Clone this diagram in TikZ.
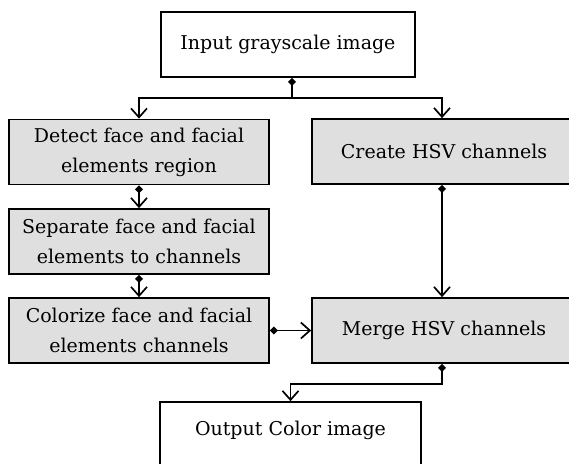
\documentclass[tikz,border=0pt]{standalone}
\usepackage{fontspec}
\setmainfont{DejaVu Serif}
\usetikzlibrary{arrows.meta}
\begin{document}
\begin{tikzpicture}[x=1pt,y=-1pt,
  box/.style={draw=black,line width=1.7pt,minimum width=#1,minimum height=65pt,align=center,inner sep=0pt,
    font=\fontsize{19}{30}\selectfont},
  gbox/.style={box=#1,fill=gray!25},
  conn/.style={line width=1.7pt,{Diamond[length=8pt,width=8pt]}-{Straight Barb[length=9pt,width=16pt,line width=1.7pt]}},
  plain/.style={line width=1.7pt,-{Straight Barb[length=9pt,width=16pt,line width=1.7pt]}}]
\useasboundingbox (0,0) rectangle (569,463);
\node[box=254pt] (in) at (288,44.5) {Input grayscale image};
\node[gbox=260pt] (det) at (139,152) {Detect face and facial\\elements region};
\node[gbox=260pt] (sep) at (139,241.5) {Separate face and facial\\elements to channels};
\node[gbox=260pt] (col) at (139,330.5) {Colorize face and facial\\elements channels};
\node[gbox=264pt] (cre) at (444,151.5) {Create HSV channels};
\node[gbox=264pt] (mer) at (444,330.5) {Merge HSV channels};
\node[box=261pt,minimum height=70pt,text depth=18pt] (out) at (290.5,437) {Output Color image};
\draw[conn] ([xshift=4pt]in.south) -- ++(0,20) -| (det.north);
\draw[plain] ([xshift=4pt]in.south) ++(0,20) -| ([xshift=-2pt]cre.north);
\draw[conn] (det.south) -- (sep.north);
\draw[conn] (sep.south) -- (col.north);
\draw[conn] (col.east) -- (mer.west);
\draw[conn] ([xshift=-2pt]cre.south) -- ([xshift=-2pt]mer.north);
\draw[conn] ([xshift=-2pt]mer.south) -- ++(0,20) -| (out.north);
\end{tikzpicture}
\end{document}
